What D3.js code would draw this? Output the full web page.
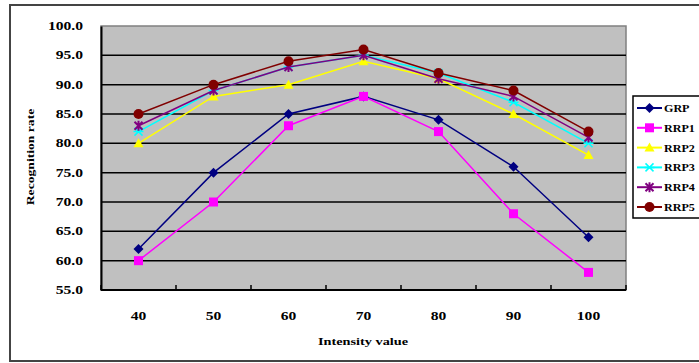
<!DOCTYPE html>
<html>
<head>
<meta charset="utf-8">
<script src="https://cdn.jsdelivr.net/npm/d3@7"></script>
<style>
  body { margin: 0; background: #fff; }
  text { font-family: "Liberation Serif", "Times New Roman", serif; font-weight: bold; }
</style>
</head>
<body>
<div id="chart"></div>
<script>
// intensity values on the x axis
var categories = [40, 50, 60, 70, 80, 90, 100];
var yTicks = [55, 60, 65, 70, 75, 80, 85, 90, 95, 100];

var grp  = [62, 75, 85, 88, 84, 76, 64];
var rrp1 = [60, 70, 83, 88, 82, 68, 58];
var rrp2 = [80, 88, 90, 94, 91, 85, 78];
var rrp3 = [82, 89, 93, 95, 92, 87, 80];
var rrp4 = [83, 89, 93, 95, 91, 88, 81];
var rrp5 = [85, 90, 94, 96, 92, 89, 82];

var series = [
  { name: "GRP",  values: grp,  color: "#000080", marker: "diamond" },
  { name: "RRP1", values: rrp1, color: "#ff00ff", marker: "square" },
  { name: "RRP2", values: rrp2, color: "#ffff00", marker: "triangle" },
  { name: "RRP3", values: rrp3, color: "#00ffff", marker: "x" },
  { name: "RRP4", values: rrp4, color: "#800080", marker: "star" },
  { name: "RRP5", values: rrp5, color: "#800000", marker: "circle" }
];

var width = 699, height = 363;
var plot = { left: 101, right: 626, top: 26, bottom: 290 };

var svg = d3.select("#chart").append("svg")
  .attr("width", width)
  .attr("height", height);

// place a text at (px,py) and widen it horizontally (source text is wider than plain Times)
function wideText(parent, px, py, str, size, anchor, rot, sx) {
  return parent.append("text")
    .attr("transform", "translate(" + px + "," + py + ")" + (rot ? " rotate(" + rot + ")" : "") + " scale(" + (sx || 1.3) + ",1)")
    .attr("text-anchor", anchor)
    .attr("font-size", size)
    .attr("fill", "#000")
    .text(str);
}

// outer frame
svg.append("rect")
  .attr("x", 10).attr("y", 5)
  .attr("width", 700).attr("height", 356)
  .attr("fill", "#fff")
  .attr("stroke", "#444")
  .attr("stroke-width", 2);

var x = d3.scaleBand()
  .domain(categories)
  .range([plot.left, plot.right]);

var y = d3.scaleLinear()
  .domain([55, 100])
  .range([plot.bottom, plot.top]);

// plot area
svg.append("rect")
  .attr("x", plot.left).attr("y", plot.top)
  .attr("width", plot.right - plot.left)
  .attr("height", plot.bottom - plot.top)
  .attr("fill", "#c0c0c0")
  .attr("stroke", "#808080")
  .attr("stroke-width", 1.5);

// grid lines
svg.append("g")
  .selectAll("line")
  .data(yTicks.slice(1, -1))
  .enter().append("line")
  .attr("x1", plot.left).attr("x2", plot.right)
  .attr("y1", function (d) { return y(d); })
  .attr("y2", function (d) { return y(d); })
  .attr("stroke", "#000")
  .attr("stroke-width", 1.5);

// y axis
var yAxis = svg.append("g")
  .attr("transform", "translate(" + plot.left + ",0)")
  .call(d3.axisLeft(y).tickValues(yTicks).tickSize(0).tickFormat(""));
yAxis.select(".domain").attr("stroke", "#000").attr("stroke-width", 2);
var fmt = d3.format(".1f");
yTicks.forEach(function (t) {
  wideText(svg, 83, y(t) + 4, fmt(t), 12, "end");
});

// x axis: ticks at category boundaries, inside the plot
var bounds = categories.map(function (d) { return x(d); }).concat([plot.right]);
svg.append("line")
  .attr("x1", plot.left).attr("x2", plot.right)
  .attr("y1", plot.bottom).attr("y2", plot.bottom)
  .attr("stroke", "#000").attr("stroke-width", 2);
svg.append("g")
  .selectAll("line")
  .data(bounds)
  .enter().append("line")
  .attr("x1", function (d) { return d; })
  .attr("x2", function (d) { return d; })
  .attr("y1", plot.bottom).attr("y2", plot.bottom - 5)
  .attr("stroke", "#000").attr("stroke-width", 1.5);
categories.forEach(function (c) {
  wideText(svg, x(c) + x.bandwidth() / 2, 320, c, 12, "middle");
});

// axis titles
wideText(svg, 363, 345, "Intensity value", 11, "middle");
wideText(svg, 34, 157, "Recognition rate", 10.5, "middle", -90);

function drawMarker(g, type, color) {
  if (type === "diamond") {
    g.append("path").attr("d", "M0,-5L5,0L0,5L-5,0Z").attr("fill", color);
  } else if (type === "square") {
    g.append("rect").attr("x", -4.5).attr("y", -4.5).attr("width", 9).attr("height", 9).attr("fill", color);
  } else if (type === "triangle") {
    g.append("path").attr("d", "M0,-5L5,4L-5,4Z").attr("fill", color);
  } else if (type === "x") {
    g.append("path").attr("d", "M-4,-4L4,4M-4,4L4,-4M-5,0L5,0")
      .attr("stroke", color).attr("stroke-width", 1.5).attr("fill", "none");
  } else if (type === "star") {
    g.append("path").attr("d", "M-4,-4L4,4M-4,4L4,-4M0,-5L0,5")
      .attr("stroke", color).attr("stroke-width", 2).attr("fill", "none");
  } else {
    g.append("circle").attr("r", 5).attr("fill", color);
  }
}

var line = d3.line()
  .x(function (d, i) { return x(categories[i]) + x.bandwidth() / 2; })
  .y(function (d) { return y(d); });

series.forEach(function (s) {
  svg.append("path")
    .datum(s.values)
    .attr("d", line)
    .attr("fill", "none")
    .attr("stroke", s.color)
    .attr("stroke-width", 1.5);
  s.values.forEach(function (v, i) {
    var g = svg.append("g")
      .attr("transform", "translate(" + (x(categories[i]) + x.bandwidth() / 2) + "," + y(v) + ")");
    drawMarker(g, s.marker, s.color);
  });
});

// legend
var legend = svg.append("g");
legend.append("rect")
  .attr("x", 633).attr("y", 96)
  .attr("width", 80).attr("height", 122)
  .attr("fill", "#fff")
  .attr("stroke", "#000")
  .attr("stroke-width", 1.5);

series.forEach(function (s, i) {
  var ly = 108 + i * 19.8;
  var g = legend.append("g");
  g.append("line")
    .attr("x1", 637).attr("x2", 662)
    .attr("y1", ly).attr("y2", ly)
    .attr("stroke", s.color).attr("stroke-width", 2);
  drawMarker(g.append("g").attr("transform", "translate(649.5," + ly + ")"), s.marker, s.color);
  wideText(g, 664, ly + 4, s.name, 11, "start", 0, 1.1);
});
</script>
</body>
</html>
